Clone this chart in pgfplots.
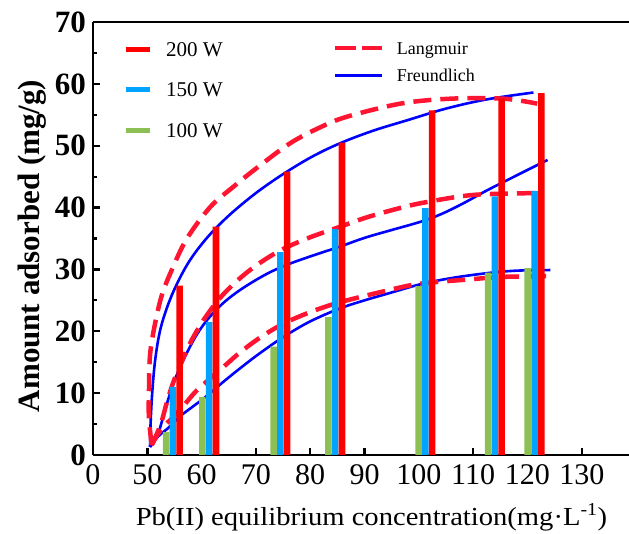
\documentclass[border=0pt]{standalone}
\usepackage{pgfplots}
\pgfplotsset{compat=1.18}
\usepackage{fontspec}
\setmainfont{Liberation Serif}
\definecolor{barred}{RGB}{255,0,0}
\definecolor{barblue}{RGB}{0,163,255}
\definecolor{bargreen}{RGB}{140,192,84}
\definecolor{dashred}{RGB}{255,20,50}
\definecolor{fblue}{RGB}{0,0,255}
\begin{document}
\begin{tikzpicture}
\begin{axis}[name=main,
  scale only axis, width=536pt, height=433pt,
  xmin=40, xmax=138.7, ymin=0, ymax=70,
  axis x line=box, axis y line=left,
  axis line style={-, line width=2.6pt, black},
  xtick={40,50,60,70,80,90,100,110,120,130},
  xticklabels={0,50,60,70,80,90,100,110,120,130},
  xtick pos=left, ytick pos=left,
  ytick={0,10,...,70}, minor ytick={5,15,...,65},
  tick align=inside,
  major tick length=7pt, minor tick length=4.5pt,
  every major tick/.append style={line width=2.4pt, black},
  every minor tick/.append style={line width=2.2pt, black},
  /pgf/number format/assume math mode=true,
  yticklabel style={font=\fontsize{31}{31}\selectfont\bfseries, inner sep=0pt, xshift=-7pt},
  xticklabel style={font=\fontsize{30}{30}\selectfont, inner sep=0pt, yshift=-9pt},
  ylabel={Amount adsorbed (mg/g)},
  every axis y label/.style={at={(axis description cs:-0.1138,0.4827)}, rotate=90, anchor=center, font=\fontsize{31}{31}\selectfont\bfseries},
  xlabel={Pb(II) equilibrium concentration(mg·L\textsuperscript{-1})},
  every axis x label/.style={at={(axis description cs:0.5196,-0.1617)}, anchor=base, font=\fontsize{26}{26}\selectfont, xscale=1.1},
  legend image code/.code={\draw[#1] (0pt,0pt) -- (24pt,0pt);},
  legend style={at={(axis description cs:0.056,0.954)}, anchor=north west, draw=none, fill=none, inner sep=0pt, row sep=26.5pt, column sep=14pt, font=\fontsize{21}{21}\selectfont, nodes={inner sep=0pt, text height=14pt, text depth=0pt}, cells={anchor=west}},
]
\addlegendimage{barred, line width=5pt}
\addlegendentry{200 W}
\addlegendimage{barblue, line width=5pt}
\addlegendentry{150 W}
\addlegendimage{bargreen, line width=5pt}
\addlegendentry{100 W}
% Freundlich fits
\addplot[fblue, line width=2.6pt, smooth, tension=0.6, forget plot] coordinates {
(50.5,1.3) (50.6,5) (50.9,10) (51.4,15) (52.2,19.5) (53.3,23) (55,26.8) (57.5,31) (60.5,34.6) (63.8,37.7) (67.1,40.3) (71,43.0) (75.7,45.8) (80.5,48.3) (85.5,50.4) (91.5,52.4) (97.8,54.1) (105,56.0) (112.6,57.5) (121.1,58.6)};
\addplot[fblue, line width=2.6pt, smooth, tension=0.6, forget plot] coordinates {
(50.5,1.3) (52,3.5) (53.5,8) (55,12) (57,16) (59.5,20) (62.5,23.3) (66,26.0) (70.8,28.7) (75,30.5) (80,32.1) (85.5,33.7) (90,35.1) (94.7,36.3) (100.3,37.7) (104,38.9) (108,40.6) (112.6,42.8) (118,45.2) (123.7,47.7)};
\addplot[fblue, line width=2.6pt, smooth, tension=0.6, forget plot] coordinates {
(50.5,1.3) (52.0,3.0) (53.9,4.4) (56.1,6.3) (58.5,7.9) (60.6,9.3) (64.1,11.9) (67.5,14.3) (70.8,16.5) (75.1,19.1) (80,21.6) (85.5,23.7) (90,25.0) (94.7,26.2) (100.3,27.6) (106,28.6) (112.6,29.4) (118,29.8) (124.2,29.9)};
% Langmuir fits
\addplot[dashred, line width=4.5pt, dash pattern=on 18pt off 9pt, smooth, tension=0.55, forget plot] coordinates {
(50.8,1.6) (50.3,6) (50.3,10) (50.6,17) (52.4,25.0) (54.5,29.9) (57.3,35.0) (61.6,40.1) (65.9,43.4) (70,46.3) (76.3,50.4) (81.9,53.0) (86.8,54.7) (96.6,56.8) (105.8,57.6) (115.6,57.6) (121.8,56.8)};
\addplot[dashred, line width=4.5pt, dash pattern=on 18pt off 9pt, smooth, tension=0.55, forget plot] coordinates {
(50.8,1.6) (51.7,3.3) (52.6,5.3) (53.6,8.5) (54.8,11.8) (56.3,15.0) (58,18.3) (60.5,22) (63.5,25.5) (67.1,28.6) (70.8,31.1) (75,33.3) (80,35.2) (85.5,36.9) (90,38.3) (94.7,39.5) (100.3,40.7) (109.5,42.0) (118.7,42.3) (122.2,42.3)};
\addplot[dashred, line width=4.5pt, dash pattern=on 18pt off 9pt, smooth, tension=0.55, forget plot] coordinates {
(50.8,1.6) (51.8,3.2) (53.0,4.6) (54.85,6.2) (56.9,8.2) (59.2,10.5) (64.1,14.3) (67.1,16.6) (70.8,19.0) (75,21.2) (80,23.1) (85.5,24.7) (94.7,26.7) (100.3,27.7) (109.5,28.4) (115.6,28.8) (123.8,28.9)};
% bars
\addplot[ybar, bar width=1.2, bar shift=0pt, draw=none, fill=bargreen, forget plot] coordinates {
(53.45,3.7) (60.15,9.4) (73.25,17.5) (83.35,22.3) (99.95,27.3) (112.75,29.5) (120.05,30.2)};
\addplot[ybar, bar width=1.2, bar shift=0pt, draw=none, fill=barblue, forget plot] coordinates {
(54.7,11.0) (61.4,21.5) (74.5,32.8) (84.6,36.5) (101.2,39.9) (114.0,41.8) (121.3,42.7)};
\addplot[ybar, bar width=1.2, bar shift=0pt, draw=none, fill=barred, forget plot] coordinates {
(55.95,27.4) (62.65,36.9) (75.75,45.8) (85.85,50.5) (102.45,55.7) (115.25,57.6) (122.55,58.5)};
\end{axis}
\begin{axis}[scale only axis, width=536pt, height=433pt, xmin=0, xmax=1, ymin=0, ymax=1, hide axis,
  legend image code/.code={\draw[#1] (0pt,0pt) -- (47pt,0pt);},
  legend style={at={(axis description cs:0.446,0.954)}, anchor=north west, draw=none, fill=none, inner sep=0pt, row sep=15pt, column sep=13pt, font=\fontsize{18}{18}\selectfont, nodes={inner sep=0pt, text height=12pt, text depth=0pt}, cells={anchor=west}}]
\addlegendimage{dashred, line width=4.7pt, dash pattern=on 21pt off 6pt}
\addlegendentry{Langmuir}
\addlegendimage{fblue, line width=3pt}
\addlegendentry{Freundlich}
\end{axis}
\pgfresetboundingbox
\useasboundingbox ([shift={(-93pt,-79pt)}]main.south west) rectangle ([shift={(0pt,22pt)}]main.north east);
\end{tikzpicture}
\end{document}
